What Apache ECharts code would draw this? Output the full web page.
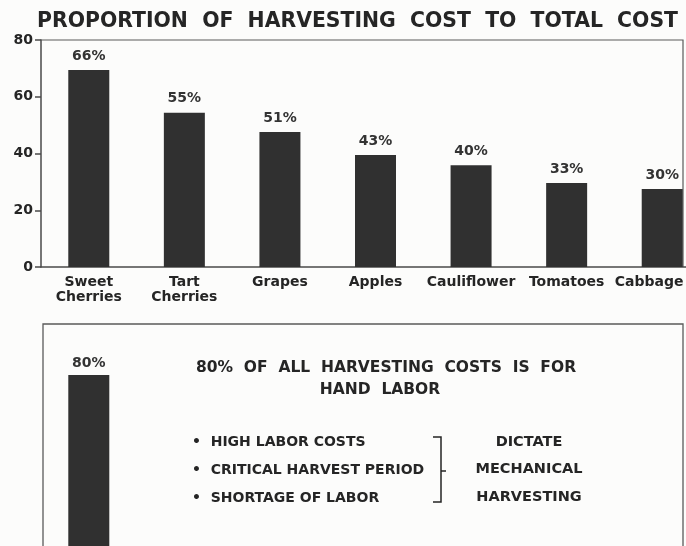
<!DOCTYPE html>
<html>
<head>
<meta charset="utf-8">
<script src="https://cdn.jsdelivr.net/npm/echarts@6/dist/echarts.min.js"></script>
<style>
  html, body { margin: 0; padding: 0; background: #fcfcfb; }
  #chart { width: 686px; height: 546px; }
</style>
</head>
<body>
<div id="chart"></div>
<script>
// 作物
const crops = ['Sweet\nCherries', 'Tart\nCherries', 'Grapes', 'Apples', 'Cauliflower', 'Tomatoes', 'Cabbage']
// 柱高 (从图上量出来的)
const barHeights = [69.4, 54.4, 47.6, 39.5, 35.9, 29.6, 27.5]
// 柱顶上的百分比文字
const pctLabels = ['66%', '55%', '51%', '43%', '40%', '33%', '30%']
const yTicks = [0, 20, 40, 60, 80]

// 下半部分
const handLabor = [80]
const handLaborLabel = ['80%']
const headline = ['80%  OF  ALL  HARVESTING  COSTS  IS  FOR', 'HAND  LABOR']
const reasons = ['•  HIGH LABOR COSTS', '•  CRITICAL HARVEST PERIOD', '•  SHORTAGE OF LABOR']
const outcome = ['DICTATE', 'MECHANICAL', 'HARVESTING']

const ink = '#252525'
const barColor = '#303030'
const lineColor = '#4a4a4a'
const font = 'DejaVu Sans'

const chart = echarts.init(document.getElementById('chart'))

const valueLabel = {
  show: true, position: 'top', distance: 7,
  fontFamily: font, fontSize: 14, fontWeight: 'bold', color: '#333'
}
const catText = { fontFamily: font, fontSize: 14, fontWeight: 'bold', color: ink, lineHeight: 15 }

const option = {
  backgroundColor: '#fcfcfb',
  animation: false,
  title: {
    text: 'PROPORTION  OF  HARVESTING  COST  TO  TOTAL  COST',
    left: 37,
    top: 12,
    padding: 0,
    textStyle: { fontFamily: font, fontSize: 20.4, fontWeight: 'bold', color: ink }
  },
  grid: [
    // 最右边的柱子贴着画布边缘，所以网格要伸出去
    { left: 41, top: 40, width: 669, height: 227, outerBoundsMode: 'none' },
    { left: 41, top: 375, width: 95.6, height: 227, outerBoundsMode: 'none' }
  ],
  xAxis: [
    {
      gridIndex: 0,
      type: 'category',
      data: crops,
      axisLine: { lineStyle: { color: lineColor, width: 1.5 } },
      axisTick: { show: false },
      axisLabel: {
        margin: 8,
        ...catText,
        interval: 0,
        // 最后一个标签往左挪一点，不被画布切掉
        formatter: (v, i) => i === crops.length - 1 ? '{edge|' + v + '}' : v,
        rich: { edge: { ...catText, padding: [0, 26, 0, 0] } }
      }
    },
    { gridIndex: 1, type: 'category', data: [''], show: false }
  ],
  yAxis: [
    {
      gridIndex: 0,
      type: 'value',
      min: 0, max: yTicks[yTicks.length - 1], interval: yTicks[1] - yTicks[0],
      axisLine: { show: true, lineStyle: { color: lineColor, width: 1.5 } },
      axisTick: { show: true, length: 6, lineStyle: { color: lineColor, width: 1.5 } },
      splitLine: { show: false },
      axisLabel: { margin: 8, fontFamily: font, fontSize: 14, fontWeight: 'bold', color: ink }
    },
    { gridIndex: 1, type: 'value', min: 0, max: 80, show: false }
  ],
  series: [
    {
      type: 'bar',
      xAxisIndex: 0, yAxisIndex: 0,
      data: barHeights,
      barWidth: 41,
      itemStyle: { color: barColor },
      label: { ...valueLabel, formatter: p => pctLabels[p.dataIndex] }
    },
    {
      type: 'bar',
      xAxisIndex: 1, yAxisIndex: 1,
      data: handLabor,
      barWidth: 41,
      itemStyle: { color: barColor },
      label: { ...valueLabel, distance: 5, formatter: p => handLaborLabel[p.dataIndex] }
    }
  ],
  graphic: [
    // 上面图的边框
    {
      type: 'polyline', silent: true,
      shape: { points: [[41, 40], [683, 40], [683, 267]] },
      style: { stroke: '#5a5a5a', lineWidth: 1.2, fill: null }
    },
    // 下面的框
    {
      type: 'polyline', silent: true,
      shape: { points: [[43, 560], [43, 324], [683, 324], [683, 560]] },
      style: { stroke: '#5a5a5a', lineWidth: 1.3, fill: null }
    },
    ...headline.map((t, i) => ({
      type: 'text', silent: true,
      style: {
        text: t, x: i === 0 ? 386 : 380, y: 368 + i * 22, align: 'center', verticalAlign: 'middle',
        font: 'bold 15.5px "' + font + '"', fill: ink
      }
    })),
    ...reasons.map((t, i) => ({
      type: 'text', silent: true,
      style: {
        text: t, x: 192, y: 442 + i * 28, align: 'left', verticalAlign: 'middle',
        font: 'bold 14px "' + font + '"', fill: ink
      }
    })),
    ...outcome.map((t, i) => ({
      type: 'text', silent: true,
      style: {
        text: t, x: 529, y: 442 + i * 27.5, align: 'center', verticalAlign: 'middle',
        font: 'bold 14.5px "' + font + '"', fill: ink
      }
    })),
    // 括号
    {
      type: 'polyline', silent: true,
      shape: { points: [[433, 437], [441, 437], [441, 502], [433, 502]] },
      style: { stroke: ink, lineWidth: 1.5, fill: null }
    },
    {
      type: 'line', silent: true,
      shape: { x1: 441, y1: 471, x2: 446, y2: 471 },
      style: { stroke: ink, lineWidth: 1.5 }
    }
  ]
}

chart.setOption(option)
</script>
</body>
</html>
